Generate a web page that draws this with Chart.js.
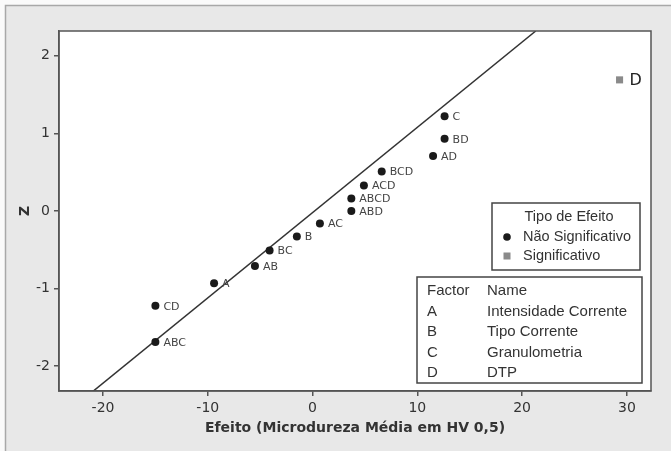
<!DOCTYPE html>
<html>
<head>
<title>Normal Plot of Effects</title>
<script src="https://cdn.jsdelivr.net/npm/chart.js"></script>
<style>
  body { margin: 0; background: #fff; }
</style>
</head>
<body>
<canvas id="myChart" width="671" height="451"></canvas>
<script>
  // effects
  const effectLabels = ['ABC', 'CD', 'A', 'AB', 'BC', 'B', 'AC', 'ABD', 'ABCD', 'ACD', 'BCD', 'AD', 'BD', 'C', 'D'];
  const effectValues = [-15.0, -15.0, -9.4, -5.5, -4.1, -1.5, 0.7, 3.7, 3.7, 4.9, 6.6, 11.5, 12.6, 12.6, 29.3];
  const zValues = [-1.69, -1.22, -0.93, -0.71, -0.51, -0.33, -0.16, 0, 0.16, 0.33, 0.51, 0.71, 0.93, 1.22, 1.69];
  const significant = [false, false, false, false, false, false, false, false, false, false, false, false, false, false, true];

  // reference line
  const lineX = [-21.1, 21.3];
  const lineZ = [-2.34, 2.32];

  const xTicks = [-20, -10, 0, 10, 20, 30];
  const yTicks = [-2, -1, 0, 1, 2];

  const legendTitle = 'Tipo de Efeito';
  const legendItems = ['Não Significativo', 'Significativo'];
  const factorHeader = ['Factor', 'Name'];
  const factorCodes = ['A', 'B', 'C', 'D'];
  const factorNames = ['Intensidade Corrente', 'Tipo Corrente', 'Granulometria', 'DTP'];

  // split points into the two groups
  const nonSig = [], sig = [];
  effectLabels.forEach((lab, i) => {
    const p = { x: effectValues[i], y: zValues[i], label: lab };
    (significant[i] ? sig : nonSig).push(p);
  });

  const tickFont = { family: 'DejaVu Sans', size: 14 };

  // frame + white plot area
  const backgroundPlugin = {
    id: 'panelBg',
    beforeDraw(chart) {
      const ctx = chart.ctx, a = chart.chartArea;
      ctx.save();
      ctx.fillStyle = '#fafafa';
      ctx.fillRect(0, 0, chart.width, chart.height);
      ctx.fillStyle = '#e8e8e8';
      ctx.fillRect(5, 5, chart.width - 5, chart.height - 5);
      ctx.strokeStyle = '#a8a8a8';
      ctx.lineWidth = 1.5;
      ctx.beginPath();
      ctx.moveTo(5.5, chart.height);
      ctx.lineTo(5.5, 5.5);
      ctx.lineTo(chart.width, 5.5);
      ctx.stroke();
      ctx.fillStyle = '#fff';
      ctx.fillRect(a.left, a.top, a.right - a.left, a.bottom - a.top);
      ctx.restore();
    },
    afterDatasetsDraw(chart) {
      const ctx = chart.ctx, a = chart.chartArea;
      ctx.save();
      ctx.strokeStyle = '#555';
      ctx.lineWidth = 1.5;
      ctx.strokeRect(a.left, a.top, a.right - a.left, a.bottom - a.top);
      ctx.restore();
    }
  };

  // text labels next to each point
  const pointLabelPlugin = {
    id: 'pointLabels',
    afterDatasetsDraw(chart) {
      const ctx = chart.ctx;
      ctx.save();
      ctx.textBaseline = 'middle';
      ctx.textAlign = 'left';
      [0, 1].forEach(di => {
        const ds = chart.data.datasets[di];
        const meta = chart.getDatasetMeta(di);
        meta.data.forEach((el, i) => {
          const big = di === 1;
          ctx.font = big ? '16px "DejaVu Sans"' : '11px "DejaVu Sans"';
          ctx.fillStyle = big ? '#222' : '#444';
          ctx.fillText(ds.data[i].label, el.x + (big ? 10 : 8), el.y + 1);
        });
      });
      ctx.restore();
    }
  };

  // the two boxes in the lower right
  const boxesPlugin = {
    id: 'boxes',
    afterDraw(chart) {
      const ctx = chart.ctx, a = chart.chartArea;
      ctx.save();
      ctx.lineWidth = 1.5;
      ctx.strokeStyle = '#444';
      ctx.fillStyle = '#fff';

      // Tipo de Efeito
      const lx = a.right - 159, ly = a.top + 172;
      ctx.fillRect(lx, ly, 148, 67);
      ctx.strokeRect(lx, ly, 148, 67);
      ctx.font = '14.5px "Liberation Sans", Arial, sans-serif';
      ctx.fillStyle = '#333';
      ctx.textBaseline = 'middle';
      ctx.textAlign = 'center';
      ctx.fillText(legendTitle, lx + 77, ly + 14);
      ctx.textAlign = 'left';
      legendItems.forEach((t, i) => {
        ctx.fillStyle = '#333';
        ctx.fillText(t, lx + 31, ly + 34 + i * 19);
      });
      ctx.fillStyle = '#1a1a1a';
      ctx.beginPath();
      ctx.arc(lx + 15, ly + 34, 3.8, 0, Math.PI * 2);
      ctx.fill();
      ctx.fillStyle = '#8a8a8a';
      ctx.fillRect(lx + 11.5, ly + 49.5, 7, 7);

      // Factor / Name
      const fx = a.right - 234, fy = a.top + 246;
      ctx.fillStyle = '#fff';
      ctx.fillRect(fx, fy, 225, 106);
      ctx.strokeRect(fx, fy, 225, 106);
      ctx.font = '15px "Liberation Sans", Arial, sans-serif';
      ctx.fillStyle = '#333';
      ctx.fillText(factorHeader[0], fx + 10, fy + 14);
      ctx.fillText(factorHeader[1], fx + 70, fy + 14);
      factorCodes.forEach((c, i) => {
        ctx.fillText(c, fx + 10, fy + 34.5 + i * 20.5);
        ctx.fillText(factorNames[i], fx + 70, fy + 34.5 + i * 20.5);
      });
      ctx.restore();
    }
  };

  const ctx = document.getElementById('myChart').getContext('2d');
  const chart = new Chart(ctx, {
    type: 'scatter',
    data: {
      datasets: [
        {
          label: legendItems[0],
          data: nonSig,
          pointStyle: 'circle',
          pointRadius: 4,
          pointBackgroundColor: '#1a1a1a',
          pointBorderWidth: 0,
          order: 1
        },
        {
          label: legendItems[1],
          data: sig,
          pointStyle: 'rect',
          pointRadius: 5,
          pointBackgroundColor: '#8a8a8a',
          pointBorderWidth: 0,
          order: 1
        },
        {
          label: 'linha',
          data: lineX.map((x, i) => ({ x: x, y: lineZ[i] })),
          showLine: true,
          pointRadius: 0,
          borderColor: '#333',
          borderWidth: 1.5,
          order: 2
        }
      ]
    },
    options: {
      responsive: false,
      animation: false,
      layout: { padding: { top: 31, right: 20, left: 0, bottom: 0 } },
      plugins: { legend: { display: false }, tooltip: { enabled: false } },
      scales: {
        x: {
          type: 'linear',
          min: -24.2,
          max: 32.3,
          afterBuildTicks: s => { s.ticks = xTicks.map(v => ({ value: v })); },
          afterFit: s => { s.height = 60; },
          grid: { drawOnChartArea: false, tickLength: 5, color: '#555', lineWidth: 1.5 },
          border: { color: '#555', width: 1.5 },
          ticks: { color: '#333', font: tickFont, padding: 4, maxRotation: 0 },
          title: {
            display: true,
            text: 'Efeito (Microdureza Média em HV 0,5)',
            color: '#333',
            font: { family: 'DejaVu Sans', size: 14, weight: 'bold' },
            padding: { top: 0, bottom: 14 }
          }
        },
        y: {
          type: 'linear',
          min: -2.32,
          max: 2.32,
          afterBuildTicks: s => { s.ticks = yTicks.map(v => ({ value: v })); },
          afterFit: s => { s.width = 59; },
          grid: { drawOnChartArea: false, tickLength: 5, color: '#555', lineWidth: 1.5 },
          border: { color: '#555', width: 1.5 },
          ticks: { color: '#333', font: tickFont, padding: 4 },
          title: {
            display: true,
            text: 'Z',
            color: '#333',
            font: { family: 'DejaVu Sans', size: 14, weight: 'bold' },
            padding: { top: 17, bottom: 0 }
          }
        }
      }
    },
    plugins: [backgroundPlugin, pointLabelPlugin, boxesPlugin]
  });
</script>
</body>
</html>
